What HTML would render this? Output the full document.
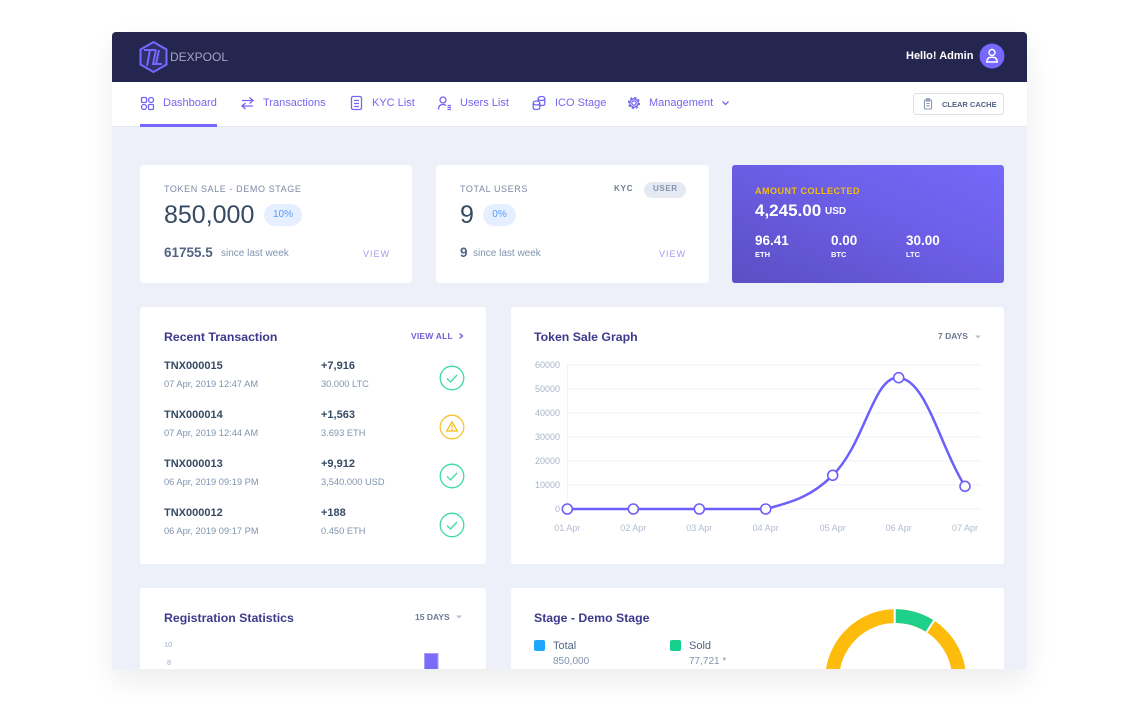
<!DOCTYPE html>
<html><head><meta charset="utf-8"><style>
*{margin:0;padding:0;box-sizing:border-box}
body{width:1140px;height:726px;background:#fff;position:relative;overflow:hidden;font-family:"Liberation Sans",Arial,sans-serif}
#frame{position:absolute;left:112px;top:32px;width:915px;height:637px;overflow:hidden;background:#edf0f8;border-radius:4px 4px 0 0;box-shadow:0 12px 28px rgba(20,30,70,0.08)}
#in{position:absolute;left:-112px;top:-32px;width:1140px;height:726px}
.a{position:absolute}
.t{position:absolute;white-space:nowrap;line-height:1}
.card{position:absolute;background:#fff;border-radius:3px}
.nav{font-size:11px;top:97.5px;color:#7466f0}
.lbl{font-size:9px;letter-spacing:.6px;color:#7d88a6;top:184.5px}
.big{font-size:25px;color:#364a63;top:202.5px}
.badge{position:absolute;top:204px;height:22px;border-radius:11px;background:#e5efff;color:#5a9bf8;font-size:10px;line-height:22px;text-align:center}
.wk{font-size:13.5px;font-weight:bold;color:#526484;top:246.3px}
.since{font-size:10px;color:#8094ae;top:249.2px}
.view{font-size:9px;letter-spacing:1px;color:#a99df0;top:249.5px}
.title{font-size:12.3px;font-weight:bold;color:#3e3a8c}
.tnx{font-size:11px;font-weight:bold;color:#364a63}
.dt{font-size:9.3px;color:#8094ae}
.w{color:#fff;font-weight:bold}
</style></head><body>
<div id="frame"><div id="in">
<!-- header -->
<div class="a" style="left:112px;top:32px;width:915px;height:50px;background:#25264f"></div>
<div class="a" style="left:112px;top:82px;width:915px;height:45px;background:#fff;border-bottom:1px solid #e6e9f2"></div>
<div class="a" style="left:140px;top:124px;width:77px;height:3px;background:#7668fe"></div>
<div class="t" style="left:170px;top:51px;font-size:12px;color:#a3a5c3">DEXPOOL</div>
<div class="t w" style="left:906px;top:50.5px;font-size:11px">Hello! Admin</div>

<div class="t nav" style="left:163px">Dashboard</div>
<div class="t nav" style="left:263px">Transactions</div>
<div class="t nav" style="left:372px">KYC List</div>
<div class="t nav" style="left:460px">Users List</div>
<div class="t nav" style="left:555px">ICO Stage</div>
<div class="t nav" style="left:649px">Management</div>
<div class="a" style="left:913px;top:93px;width:91px;height:22px;border:1px solid #dbdfea;border-radius:3px"></div>
<div class="t" style="left:942px;top:100.5px;font-size:7.5px;font-weight:bold;color:#526484">CLEAR CACHE</div>

<!-- stat cards -->
<div class="card" style="left:140px;top:165px;width:272px;height:118px"></div>
<div class="card" style="left:436px;top:165px;width:273px;height:118px"></div>
<div class="card" style="left:732px;top:165px;width:272px;height:118px;background:linear-gradient(to top right,#5a4fc2 0%,#6b5ee6 55%,#7668f9 100%)"></div>

<div class="t lbl" style="left:164px">TOKEN SALE - DEMO STAGE</div>
<div class="t big" style="left:164px">850,000</div>
<div class="badge" style="left:264px;width:38px">10%</div>
<div class="t wk" style="left:164px">61755.5</div>
<div class="t since" style="left:221px">since last week</div>
<div class="t view" style="left:363px">VIEW</div>

<div class="t lbl" style="left:460px">TOTAL USERS</div>
<div class="t" style="left:614px;top:185px;font-size:8px;font-weight:bold;letter-spacing:.8px;color:#6f7a95">KYC</div>
<div class="a" style="left:644px;top:181.5px;width:42px;height:16px;border-radius:8px;background:#e5e9f2"></div>
<div class="t" style="left:653px;top:185px;font-size:8px;font-weight:bold;letter-spacing:.6px;color:#8094ae">USER</div>
<div class="t big" style="left:460px">9</div>
<div class="badge" style="left:483px;width:33px">0%</div>
<div class="t wk" style="left:460px">9</div>
<div class="t since" style="left:473px">since last week</div>
<div class="t view" style="left:659px">VIEW</div>

<div class="t" style="left:755px;top:186.5px;font-size:9px;font-weight:bold;letter-spacing:.5px;color:#f4bd0e">AMOUNT COLLECTED</div>
<div class="t w" style="left:755px;top:201.5px;font-size:17px">4,245.00</div>
<div class="t w" style="left:825px;top:207.4px;font-size:10px">USD</div>
<div class="t w" style="left:755px;top:234.3px;font-size:13.5px">96.41</div>
<div class="t w" style="left:831px;top:234.3px;font-size:13.5px">0.00</div>
<div class="t w" style="left:906px;top:234.3px;font-size:13.5px">30.00</div>
<div class="t w" style="left:755px;top:251.2px;font-size:7.5px">ETH</div>
<div class="t w" style="left:831px;top:251.2px;font-size:7.5px">BTC</div>
<div class="t w" style="left:906px;top:251.2px;font-size:7.5px">LTC</div>

<!-- row 2 -->
<div class="card" style="left:140px;top:307px;width:346px;height:257px"></div>
<div class="card" style="left:511px;top:307px;width:493px;height:257px"></div>
<div class="t title" style="left:164px;top:330.8px">Recent Transaction</div>
<div class="t" style="left:411px;top:331.7px;font-size:8.5px;font-weight:bold;letter-spacing:.2px;color:#6d5fd8">VIEW ALL</div>

<div class="t tnx" style="left:164px;top:360.5px">TNX000015</div>
<div class="t dt" style="left:164px;top:380.3px">07 Apr, 2019 12:47 AM</div>
<div class="t tnx" style="left:321px;top:360.5px">+7,916</div>
<div class="t dt" style="left:321px;top:380.3px">30.000 LTC</div>

<div class="t tnx" style="left:164px;top:409.5px">TNX000014</div>
<div class="t dt" style="left:164px;top:429.3px">07 Apr, 2019 12:44 AM</div>
<div class="t tnx" style="left:321px;top:409.5px">+1,563</div>
<div class="t dt" style="left:321px;top:429.3px">3.693 ETH</div>

<div class="t tnx" style="left:164px;top:458.5px">TNX000013</div>
<div class="t dt" style="left:164px;top:478.3px">06 Apr, 2019 09:19 PM</div>
<div class="t tnx" style="left:321px;top:458.5px">+9,912</div>
<div class="t dt" style="left:321px;top:478.3px">3,540.000 USD</div>

<div class="t tnx" style="left:164px;top:507.5px">TNX000012</div>
<div class="t dt" style="left:164px;top:527.3px">06 Apr, 2019 09:17 PM</div>
<div class="t tnx" style="left:321px;top:507.5px">+188</div>
<div class="t dt" style="left:321px;top:527.3px">0.450 ETH</div>

<div class="t title" style="left:534px;top:330.8px">Token Sale Graph</div>
<div class="t" style="left:938px;top:331.7px;font-size:8.5px;font-weight:bold;color:#6c7a93">7 DAYS</div>

<!-- row 3 -->
<div class="card" style="left:140px;top:588px;width:346px;height:120px"></div>
<div class="card" style="left:511px;top:588px;width:493px;height:120px"></div>
<div class="t title" style="left:164px;top:611.8px">Registration Statistics</div>
<div class="t" style="left:415px;top:612.7px;font-size:8.5px;font-weight:bold;color:#6c7a93">15 DAYS</div>
<div class="t" style="left:164px;top:640.5px;font-size:7.5px;color:#9eaecb">10</div>
<div class="t" style="left:167px;top:658.5px;font-size:7.5px;color:#9eaecb">8</div>
<div class="t title" style="left:534px;top:611.8px">Stage - Demo Stage</div>
<div class="a" style="left:534px;top:640px;width:11px;height:11px;border-radius:2px;background:#1ea7fd"></div>
<div class="a" style="left:670px;top:640px;width:11px;height:11px;border-radius:2px;background:#14d08a"></div>
<div class="t" style="left:553px;top:640.5px;font-size:11px;color:#526484">Total</div>
<div class="t" style="left:689px;top:640.5px;font-size:11px;color:#526484">Sold</div>
<div class="t" style="left:553px;top:657px;font-size:10px;color:#8094ae">850,000</div>
<div class="t" style="left:689px;top:657px;font-size:10px;color:#8094ae">77,721 *</div>

<svg class="a" style="left:0;top:0" width="1140" height="726" viewBox="0 0 1140 726">
<!-- logo -->
<polygon points="153.5,42 166.5,49.5 166.5,64.5 153.5,72 140.5,64.5 140.5,49.5" fill="#2f2f6a" stroke="#7668fe" stroke-width="2"/>
<path d="M144,50 H156 M150,50 L147,66 M156,50 L153,64 H162 M159,50 L156,64" stroke="#7668fe" stroke-width="2" fill="none"/>
<!-- avatar -->
<circle cx="992" cy="56" r="12.5" fill="#7668fe"/>
<circle cx="992" cy="52.5" r="3" fill="none" stroke="#fff" stroke-width="1.4"/>
<path d="M986.8,62 q0,-4.8 5.2,-4.8 q5.2,0 5.2,4.8 Z" fill="none" stroke="#fff" stroke-width="1.4"/>
<!-- nav icons -->
<g fill="none" stroke="#7466f0" stroke-width="1.3">
<rect x="141.5" y="97.5" width="5" height="5" rx="1"/>
<rect x="148.5" y="97.5" width="5" height="5" rx="2.5"/>
<rect x="141.5" y="104.5" width="5" height="5" rx="2.5"/>
<rect x="148.5" y="104.5" width="5" height="5" rx="1"/>
<path d="M242,100.5 H253 M249.5,97.5 L253,100.5 L249.5,103.5 M253,106 H242 M245.5,103 L242,106 L245.5,109"/>
<rect x="351.5" y="96.5" width="10" height="13" rx="1.5"/>
<path d="M354,100.5 H359 M354,103.5 H359 M354,106.5 H359"/>
<circle cx="443" cy="100" r="3"/>
<path d="M438.5,109.5 q0,-5 4.5,-5 q2,0 3,1 M447.5,105.5 H451 M447.5,107.5 H451 M447.5,109.5 H451"/>
<ellipse cx="541.5" cy="98.5" rx="3.3" ry="2"/>
<path d="M538.2,98.5 V104 q0,1.5 3.3,1.5 q3.3,0 3.3,-1.5 V98.5"/>
<ellipse cx="536.5" cy="103" rx="3.3" ry="2" fill="#fff"/>
<path d="M533.2,103 V108 q0,1.5 3.3,1.5 q3.3,0 3.3,-1.5 V103"/>
<circle cx="634" cy="103" r="2.2"/>
<circle cx="634" cy="103" r="4.8" stroke-width="2.6" stroke-dasharray="2 1.77"/>
<circle cx="634" cy="103" r="4.2"/>
<path d="M722.5,101.5 L725.5,104.5 L728.5,101.5"/>
</g>
<!-- clipboard -->
<g fill="none" stroke="#8a97b0" stroke-width="1.1">
<rect x="924.5" y="100" width="7" height="9" rx="1"/>
<rect x="926.5" y="98.8" width="3" height="2.2"/>
<path d="M926.5,103.5 H929.5 M926.5,105.8 H929.5"/>
</g>
<!-- view all chevron -->
<path d="M459.5,333.5 L462.5,336 L459.5,338.5" fill="none" stroke="#6d5fd8" stroke-width="1.4"/>
<!-- dropdown carets -->
<path d="M975,335.5 L981,335.5 L978,338.5 Z" fill="#b7c2d0"/>
<path d="M456,615.5 L462,615.5 L459,618.5 Z" fill="#b7c2d0"/>
<!-- status icons -->
<g fill="none" stroke-width="1.3">
<circle cx="452" cy="378" r="11.8" stroke="#3ddba0"/>
<path d="M447,378.5 L450.5,382 L457,375" stroke="#3ddba0"/>
<circle cx="452" cy="427" r="11.8" stroke="#f7c32e"/>
<path d="M452,421.8 L457.3,431 L446.7,431 Z M452,424.8 V428" stroke="#f4bd0e" stroke-width="1.2"/>
<circle cx="452" cy="476" r="11.8" stroke="#3ddba0"/>
<path d="M447,476.5 L450.5,480 L457,473" stroke="#3ddba0"/>
<circle cx="452" cy="525" r="11.8" stroke="#3ddba0"/>
<path d="M447,525.5 L450.5,529 L457,522" stroke="#3ddba0"/>
</g>
<circle cx="452" cy="429.6" r="0.7" fill="#f4bd0e"/>
<!-- chart grid -->
<g stroke="#edf1f8" stroke-width="1">
<path d="M567,365 H981 M567,389 H981 M567,413 H981 M567,437 H981 M567,461 H981 M567,485 H981 M567,509 H981 M567.5,363 V509"/>
</g>
<g font-family="Liberation Sans, Arial, sans-serif" font-size="9" fill="#a9b5cb" text-anchor="end">
<text x="560" y="368.2">60000</text>
<text x="560" y="392.2">50000</text>
<text x="560" y="416.2">40000</text>
<text x="560" y="440.2">30000</text>
<text x="560" y="464.2">20000</text>
<text x="560" y="488.2">10000</text>
<text x="560" y="512.2">0</text>
</g>
<g font-family="Liberation Sans, Arial, sans-serif" font-size="9" fill="#b0bcd0" text-anchor="middle">
<text x="567.3" y="531.2">01 Apr</text>
<text x="633.3" y="531.2">02 Apr</text>
<text x="699.3" y="531.2">03 Apr</text>
<text x="765.7" y="531.2">04 Apr</text>
<text x="832.7" y="531.2">05 Apr</text>
<text x="898.7" y="531.2">06 Apr</text>
<text x="965" y="531.2">07 Apr</text>
</g>
<path d="M567.3,509 L765.7,509 C794,501.9 812,495.8 832.7,475.3 C865.2,443.3 873.3,375.6 898.7,377.7 C926.2,380 938.5,442.9 965,486.3" fill="none" stroke="#6c5ffc" stroke-width="2.5"/>
<g fill="#fff" stroke="#6c5ffc" stroke-width="1.6">
<circle cx="567.3" cy="509" r="5"/>
<circle cx="633.3" cy="509" r="5"/>
<circle cx="699.3" cy="509" r="5"/>
<circle cx="765.7" cy="509" r="5"/>
<circle cx="832.7" cy="475.3" r="5"/>
<circle cx="898.7" cy="377.7" r="5"/>
<circle cx="965" cy="486.3" r="5"/>
</g>
<!-- reg stat bar -->
<rect x="424.5" y="653.5" width="13.5" height="40" fill="#7a6cf8" stroke="#a89ffb" stroke-width="1"/>
<!-- donut -->
<circle cx="895.7" cy="679.6" r="63.5" fill="none" stroke="#fdbb0c" stroke-width="13.8"/>
<path d="M895.7,616.1 A63.5,63.5 0 0 1 930.28,626.34" fill="none" stroke="#1ed08a" stroke-width="13.8"/>
<path d="M894.7,607.5 V624 M926.5,632.2 L934.8,619.4" stroke="#fff" stroke-width="2"/>
</svg>
</div></div>
</body></html>
